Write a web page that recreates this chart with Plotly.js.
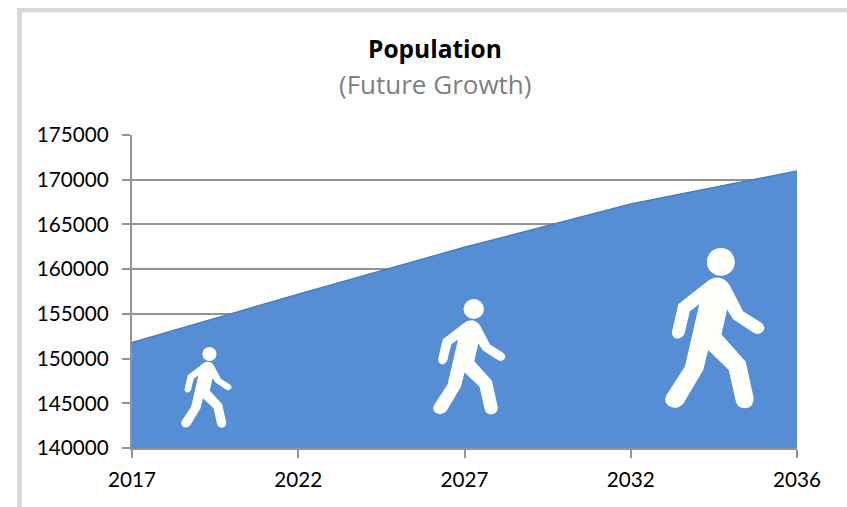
<!DOCTYPE html>
<html>
<head>
<meta charset="utf-8">
<script src="https://cdn.plot.ly/plotly-3.0.1.min.js"></script>
<style>html,body{margin:0;padding:0;background:#fff}#chart{width:847px;height:507px}</style>
</head>
<body>
<div id="chart"></div>
<script>
const years = ['2017', '2022', '2027', '2032', '2036'];
const population = [151800, 157200, 162450, 167280, 170980];
const titleText = 'Population';
const subtitleText = '(Future Growth)';

const W = 847, H = 507;
const M = {l: 132, r: 50, t: 135, b: 59};
const PW = W - M.l - M.r, PH = H - M.t - M.b;
const px = v => (v - M.l) / PW;
const py = v => 1 - (v - M.t) / PH;

const walker = 'data:image/svg+xml;utf8,' + encodeURIComponent(
  '<svg xmlns="http://www.w3.org/2000/svg" viewBox="75 292 301 486" preserveAspectRatio="none" width="602" height="972">' +
  '<circle cx="243" cy="334" r="42" fill="#fffffb"/>' +
  '<path fill="#fffffb" d="M232 381 Q255 381 270 405 L310 483 L365 518 Q378 530 372 540 Q360 558 342 548 L280 507 L262 478 L245 553 L318 635 L342 745 Q342 775 315 776 Q292 776 287 750 L267 660 L205 600 L190 660 L130 762 Q110 782 88 770 Q68 755 80 735 L135 650 L178 462 L150 483 L134 550 Q125 568 108 565 Q92 558 97 540 L115 462 L200 395 Q215 381 232 381 Z"/>' +
  '</svg>');
const icon = (x0, x1, y0, y1) => ({
  source: walker, xref: 'paper', yref: 'paper', layer: 'above',
  x: px(x0), y: py(y0), sizex: (x1 - x0) / PW, sizey: (y1 - y0) / PH,
  xanchor: 'left', yanchor: 'top', sizing: 'stretch'
});
const frame = (x0, x1, y0, y1) => ({
  type: 'rect', xref: 'paper', yref: 'paper', layer: 'below',
  x0: px(x0), x1: px(x1), y0: py(y0), y1: py(y1),
  fillcolor: '#d9d9d9', line: {width: 0}
});
const label = (text, yPix, f) => ({
  text: text, xref: 'paper', yref: 'paper', showarrow: false,
  x: px(435), y: py(yPix), xanchor: 'center', yanchor: 'middle', font: f
});

const font = 'Lato, Carlito, Calibri, sans-serif';
const titleFont = '"Open Sans", sans-serif';
const gray = '#939393';

Plotly.newPlot('chart', [{
  type: 'scatter', mode: 'lines', x: years, y: population,
  fill: 'tozeroy', fillcolor: '#558ed5',
  line: {color: '#4a7ebb', width: 1.5}, hoverinfo: 'x+y'
}], {
  width: W, height: H,
  margin: M,
  paper_bgcolor: 'rgba(0,0,0,0)', plot_bgcolor: 'rgba(0,0,0,0)',
  showlegend: false,
  font: {family: font, size: 20.7, color: '#000'},
  xaxis: {
    type: 'category', range: [0, 4], tickmode: 'array', tickvals: years, ticktext: years,
    showgrid: false, zeroline: false,
    showline: true, linecolor: gray, linewidth: 2,
    ticks: 'outside', ticklen: 8, tickwidth: 2, tickcolor: gray,
    ticklabelstandoff: 4, tickfont: {family: font, size: 20.7, color: '#000'}
  },
  yaxis: {
    range: [140000, 175000], dtick: 5000, tick0: 140000, tickformat: 'd',
    showgrid: true, gridcolor: gray, gridwidth: 2, zeroline: false,
    showline: true, linecolor: gray, linewidth: 2,
    ticks: 'outside', ticklen: 8, tickwidth: 2, tickcolor: gray,
    ticklabelstandoff: 9, tickfont: {family: font, size: 20.7, color: '#000'}
  },
  annotations: [
    label('<b>' + titleText + '</b>', 48, {family: titleFont, size: 24.5, color: '#000'}),
    label(subtitleText, 84, {family: titleFont, size: 26, color: '#808080'})
  ],
  shapes: [frame(17, 847, 8, 12.5), frame(17, 22, 8, 507)],
  images: [icon(181, 232, 347, 428), icon(433, 506, 299, 415), icon(665, 765, 248, 409)]
}, {displayModeBar: false, staticPlot: true});
</script>
</body>
</html>
